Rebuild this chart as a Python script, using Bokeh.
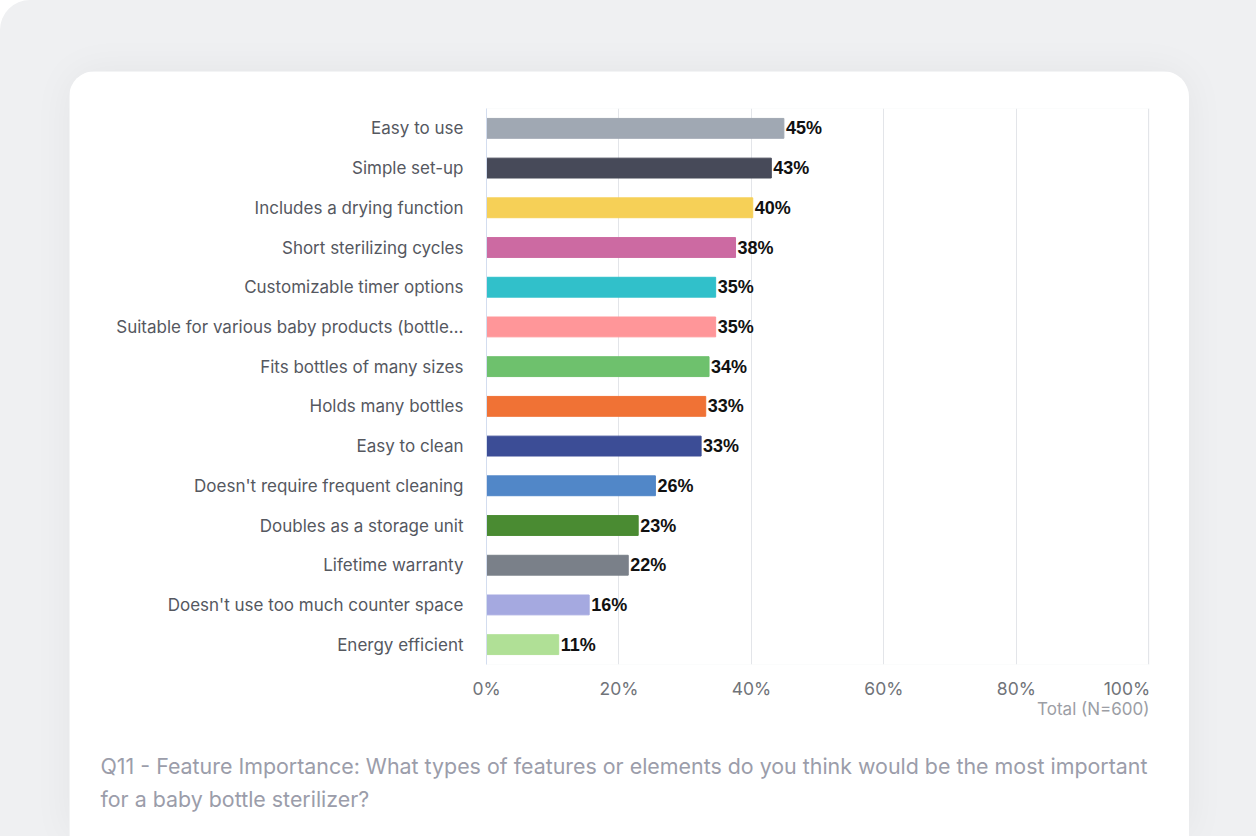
from bokeh.plotting import figure
from bokeh.models import ColumnDataSource, Title, FactorRange, Range1d, FixedTicker, PrintfTickFormatter
from bokeh.layouts import column
from bokeh.embed import file_html
from bokeh.resources import INLINE
from bokeh.core.properties import value

categories = [
    "Easy to use",
    "Simple set-up",
    "Includes a drying function",
    "Short sterilizing cycles",
    "Customizable timer options",
    "Suitable for various baby products (bottle\u2026",
    "Fits bottles of many sizes",
    "Holds many bottles",
    "Easy to clean",
    "Doesn't require frequent cleaning",
    "Doubles as a storage unit",
    "Lifetime warranty",
    "Doesn't use too much counter space",
    "Energy efficient",
]
values = [44.9, 43.0, 40.2, 37.6, 34.6, 34.6, 33.6, 33.1, 32.4, 25.5, 22.9, 21.4, 15.5, 10.9]
value_labels = ["45%", "43%", "40%", "38%", "35%", "35%", "34%", "33%", "33%", "26%", "23%", "22%", "16%", "11%"]
colors = [
    "#a0a8b3", "#474a59", "#f6d057", "#cc6aa2", "#31c0ca", "#ff9699", "#6ec16d",
    "#f07235", "#3c4d96", "#5187c8", "#4a8b32", "#7a8089", "#a5a9e0", "#b0e096",
]
x_ticks = [0, 20, 40, 60, 80, 100]
footnote = "Total (N=600)"
question_lines = [
    "Q11 - Feature Importance: What types of features or elements do you think would be the most important",
    "for a baby bottle sterilizer?",
]

FONT = "Inter"

source = ColumnDataSource(dict(cat=categories, val=values, lab=value_labels, col=colors))

p = figure(
    y_range=FactorRange(*categories[::-1]),
    x_range=Range1d(0, 100.1),
    width=1120, height=765, frame_width=663, frame_height=556,
    output_backend="svg", toolbar_location=None,
    min_border_left=417, min_border_right=40, min_border_top=37, min_border_bottom=172,
)
p.outline_line_color = None
p.background_fill_color = "white"
p.border_fill_color = "white"

p.hbar(y="cat", right="val", left=0, height=0.5, color="col", line_color="col", line_alpha=1, source=source)
p.text(x="val", y="cat", text="lab", source=source, x_offset=2,
       text_baseline="middle", text_align="left",
       text_font=value("Liberation Sans"), text_font_style="bold", text_font_size="18px",
       text_color="#111111")

p.xgrid.ticker = FixedTicker(ticks=x_ticks)
p.xgrid.grid_line_color = "#e3e5e9"
p.ygrid.grid_line_color = None

xa = p.xaxis[0]
xa.ticker = FixedTicker(ticks=x_ticks)
xa.formatter = PrintfTickFormatter(format="%d%%")
xa.major_label_overrides = {100: "100%" + "\u00a0" * 8}
xa.axis_line_color = None
xa.major_tick_line_color = None
xa.minor_tick_line_color = None
xa.major_label_standoff = 7
xa.major_label_text_font = FONT
xa.major_label_text_font_size = "17.5px"
xa.major_label_text_color = "#707379"

ya = p.yaxis[0]
ya.axis_line_color = "#d3ddef"
ya.major_tick_line_color = None
ya.minor_tick_line_color = None
ya.major_label_standoff = 17
ya.major_label_text_font = FONT
ya.major_label_text_font_size = "17px"
ya.major_label_text_color = "#55585f"

p.add_layout(Title(text=footnote, align="right", offset=0, standoff=-9,
                   text_font=FONT, text_font_size="17px", text_font_style="normal",
                   text_color="#9c9ea5"), "below")
p.add_layout(Title(text=question_lines[0], align="left", offset=-386, standoff=-129,
                   text_font=FONT, text_font_size="21.4px", text_font_style="normal",
                   text_color="#9b9daa"), "below")
p.add_layout(Title(text=question_lines[1], align="left", offset=-386, standoff=-195,
                   text_font=FONT, text_font_size="21.4px", text_font_style="normal",
                   text_color="#9b9daa"), "below")

p.styles = {"border-radius": "26px 26px 0 0", "overflow": "hidden",
            "box-shadow": "0 0 40px rgba(0,0,0,0.05)"}

layout = column(p, styles={"background-color": "#eff0f2", "padding": "71px 67px 0 69px",
                           "border-top-left-radius": "30px"})

open("out.html", "w").write(file_html(layout, INLINE))
